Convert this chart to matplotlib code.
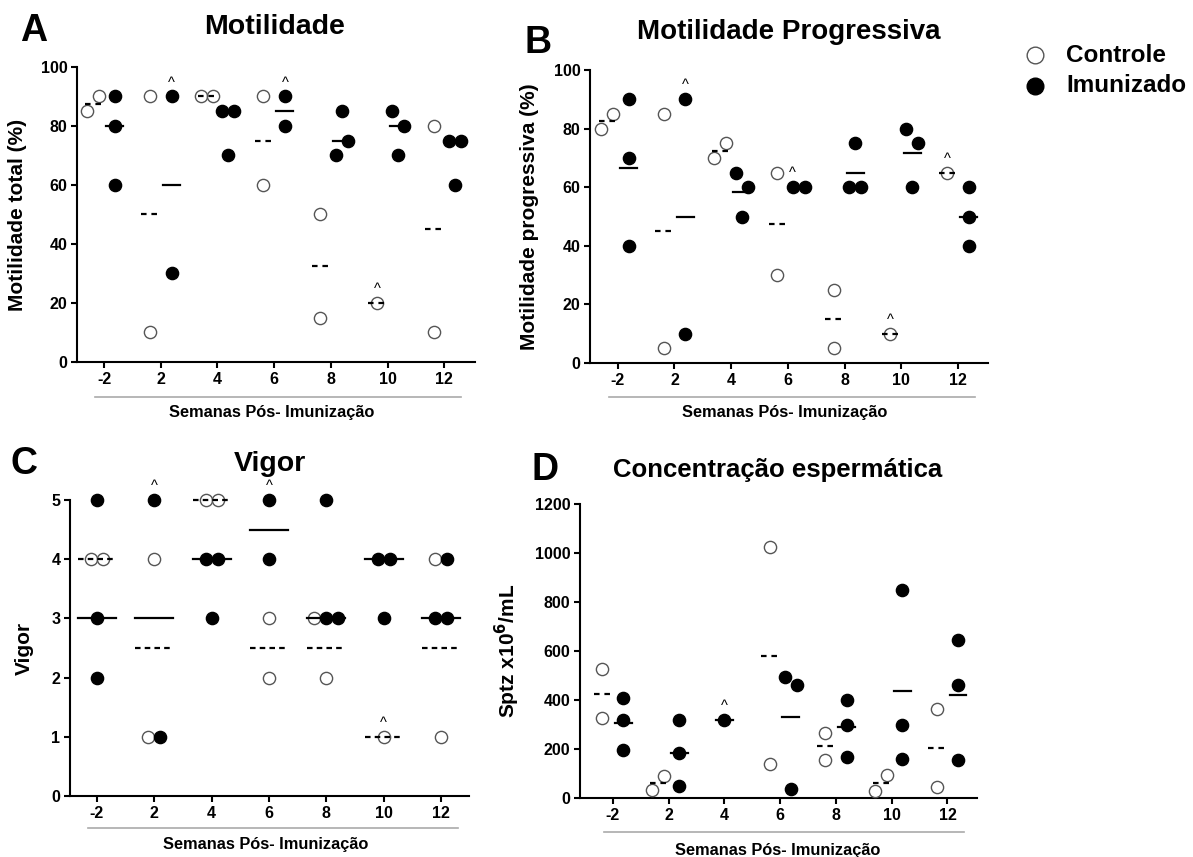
"""
Semen parameters after immunization: 4-panel scatter (Controle vs Imunizado).
"""
import matplotlib
matplotlib.use("Agg")
import matplotlib.pyplot as plt  # noqa: E402
from matplotlib.lines import Line2D  # noqa: E402
from matplotlib.transforms import blended_transform_factory  # noqa: E402

plt.rcParams["font.family"] = ["Liberation Sans", "DejaVu Sans"]
plt.rcParams["font.weight"] = "bold"
plt.rcParams["lines.scale_dashes"] = False

WEEKS = ["-2", "2", "4", "6", "8", "10", "12"]

# (A) motilidade total (%)
mot_ctrl = [[85, 90], [90, 10], [90, 90], [90, 60], [50, 15], [20], [80, 10]]
mot_imun = [[90, 80, 60], [90, 30], [85, 85, 70], [90, 80], [85, 70, 75],
            [85, 80, 70], [75, 75, 60]]
mot_ctrl_line = [87.5, 50, 90, 75, 32.5, 20, 45]
mot_imun_line = [80, 60, 85, 85, 75, 80, 75]
mot_flags = [(1, "imun"), (3, "imun"), (5, "ctrl")]

# (B) motilidade progressiva (%)
prog_ctrl = [[80, 85], [85, 5], [70, 75], [65, 30], [25, 5], [10], [65]]
prog_imun = [[90, 70, 40], [90, 10], [65, 60, 50], [60, 60], [75, 60, 60],
             [80, 75, 60], [60, 50, 40]]
prog_ctrl_line = [82.5, 45, 72.5, 47.5, 15, 10, 65]
prog_imun_line = [66.7, 50, 58.3, 60, 65, 71.7, 50]
prog_flags = [(1, "imun"), (3, "imun"), (5, "ctrl"), (6, "ctrl")]

# (C) vigor (0-5)
vig_ctrl = [[4, 4], [4, 1], [5, 5], [3, 2], [3, 2], [1], [4, 1]]
vig_imun = [[5, 3, 2], [5, 1], [4, 4, 3], [5, 4], [5, 3, 3], [4, 4, 3], [4, 3, 3]]
vig_ctrl_line = [4, 2.5, 5, 2.5, 2.5, 1, 2.5]
vig_imun_line = [3, 3, 4, 4.5, 3, 4, 3]
vig_flags = [(1, "imun"), (3, "imun"), (5, "ctrl")]

# (D) concentração (x10^6/mL)
conc_ctrl = [[525, 325], [34, 88], [], [1025, 137], [266, 157], [28, 92], [365, 45]]
conc_imun = [[410, 317, 195], [317, 184, 50], [317], [494, 460, 37],
             [402, 300, 168], [851, 296, 161], [646, 463, 154]]
conc_ctrl_line = [425, 61, None, 581, 211, 60, 205]
conc_imun_line = [307, 184, 317, 330, 290, 436, 421]
conc_flags = [(2, "imun")]

W, H = 1193, 857
OPEN = dict(marker="o", ms=8.8, mfc="white", mec="#555", mew=1.0, ls="none")
FILLED = dict(marker="o", ms=8.8, mfc="black", mec="black", mew=1.0, ls="none")
STEP = 0.21      # horizontal spread between overlapping points (category units)
THRESH = 17      # px closeness that triggers spreading


def spread(center, vals, px_per_unit):
    """GraphPad-like spreading: cluster close values, keep list order inside."""
    order = sorted(range(len(vals)), key=lambda i: vals[i])
    clusters = []
    for i in order:
        if clusters and (vals[i] - vals[clusters[-1][-1]]) * px_per_unit < THRESH:
            clusters[-1].append(i)
        else:
            clusters.append([i])
    xs = [center] * len(vals)
    for cl in clusters:
        cl = sorted(cl)
        n = len(cl)
        for k, i in enumerate(cl):
            xs[i] = center + (k - (n - 1) / 2) * STEP
    return xs


def make_axes(fig, px):
    l, r, t, b = px
    return fig.add_axes([l / W, 1 - b / H, (r - l) / W, (b - t) / H])


def style_axes(ax, ylim, yticks, xlim, ylabel, ylab_x, grp_y, lab_y):
    ax.set_xlim(*xlim)
    ax.set_ylim(*ylim)
    ax.set_yticks(yticks)
    ax.set_xticks(range(len(WEEKS)))
    ax.set_xticklabels(WEEKS)
    for s in ("top", "right"):
        ax.spines[s].set_visible(False)
    for s in ("left", "bottom"):
        ax.spines[s].set_linewidth(1.5)
    ax.spines["left"].set_bounds(ylim[0], yticks[-1])
    ax.tick_params(width=1.5, length=4, labelsize=11.5, pad=3)
    ax.set_ylabel(ylabel, fontsize=15, fontweight="bold")
    ax.yaxis.set_label_coords(ylab_x, 0.5)
    tr = blended_transform_factory(ax.transData, ax.transAxes)
    ax.plot([-0.16, 6.3], [grp_y, grp_y], transform=tr, clip_on=False,
            color="#aaa", lw=1.2)
    ax.text(2.95, lab_y, "Semanas Pós- Imunização", transform=tr,
            ha="center", va="center", fontsize=11.8, fontweight="bold")


def draw_panel(ax, ctrl, imun, ctrl_line, imun_line, flags, px_per_unit,
               shared=False, half=0.15, off=0.19, dash=(4, 3.5)):
    for i in range(len(WEEKS)):
        c, m = ctrl[i], imun[i]
        if shared:
            xs = spread(i, c + m, px_per_unit)
            xc, xm = xs[:len(c)], xs[len(c):]
            cc = cm = i
        else:
            cc = i - off if c else i
            cm = i + off if c else i
            xc = spread(cc, c, px_per_unit)
            xm = spread(cm, m, px_per_unit)
        ax.plot(xc, c, clip_on=False, zorder=3, **OPEN)
        ax.plot(xm, m, clip_on=False, zorder=3, **FILLED)
        if ctrl_line[i] is not None:
            ax.plot([cc - half, cc + half], [ctrl_line[i]] * 2, color="black",
                    lw=1.6, ls=(0, dash), zorder=4, clip_on=False)
        if imun_line[i] is not None:
            ax.plot([cm - half, cm + half], [imun_line[i]] * 2, color="black",
                    lw=1.6, zorder=4, clip_on=False)
        for fi, grp in flags:
            if fi != i:
                continue
            vals, xs = (c, xc) if grp == "ctrl" else (m, xm)
            k = vals.index(max(vals))
            ax.annotate("^", (xs[k], vals[k]), xytext=(0, 10),
                        textcoords="offset points", ha="center", va="center",
                        fontsize=10.5, fontweight="normal", annotation_clip=False)


def main():
    fig = plt.figure(figsize=(W / 100, H / 100), dpi=100)

    axA = make_axes(fig, (77, 475, 67, 362))
    style_axes(axA, (0, 100), [0, 20, 40, 60, 80, 100], (-0.476, 6.54),
               "Motilidade total (%)", -0.125, -0.119, -0.17)
    draw_panel(axA, mot_ctrl, mot_imun, mot_ctrl_line, mot_imun_line,
               mot_flags, 295 / 100)

    axB = make_axes(fig, (590, 988, 70, 363))
    style_axes(axB, (0, 100), [0, 20, 40, 60, 80, 100], (-0.49, 6.53),
               "Motilidade progressiva (%)", -0.128, -0.116, -0.168)
    draw_panel(axB, prog_ctrl, prog_imun, prog_ctrl_line, prog_imun_line,
               prog_flags, 293 / 100)

    axC = make_axes(fig, (70, 469, 500, 796))
    style_axes(axC, (0, 5), [0, 1, 2, 3, 4, 5], (-0.47, 6.49),
               "Vigor", -0.09, -0.108, -0.165)
    draw_panel(axC, vig_ctrl, vig_imun, vig_ctrl_line, vig_imun_line,
               vig_flags, 296 / 5, shared=True, half=0.33, dash=(4, 3))

    axD = make_axes(fig, (580, 977, 504, 798))
    style_axes(axD, (0, 1200), [0, 200, 400, 600, 800, 1000, 1200],
               (-0.59, 6.53), r"Sptz x10$^\mathbf{6}$/mL", -0.145, -0.116, -0.177)
    draw_panel(axD, conc_ctrl, conc_imun, conc_ctrl_line, conc_imun_line,
               conc_flags, 294 / 1200)

    # panel letters and titles
    for letter, x, y in [("A", 34, 31), ("B", 538, 43), ("C", 24, 464), ("D", 545, 470)]:
        fig.text(x / W, 1 - y / H, letter, fontsize=27, fontweight="bold",
                 ha="center", va="center")
    for title, x, y, fs in [("Motilidade", 275, 27, 20.5),
                            ("Motilidade Progressiva", 789, 32, 20),
                            ("Vigor", 270, 464, 20.5),
                            ("Concentração espermática", 778, 470, 18.5)]:
        fig.text(x / W, 1 - y / H, title, fontsize=fs, fontweight="bold",
                 ha="center", va="center")

    # legend
    for y, style, label in [(55, OPEN, "Controle"), (86, FILLED, "Imunizado")]:
        fig.add_artist(Line2D([1035 / W], [1 - y / H], transform=fig.transFigure,
                              **{**style, "ms": 12}))
        fig.text(1066 / W, 1 - y / H, label, fontsize=17.5, fontweight="bold",
                 ha="left", va="center")

    fig.savefig("out.png", dpi=100)
    plt.close(fig)


if __name__ == "__main__":
    main()
